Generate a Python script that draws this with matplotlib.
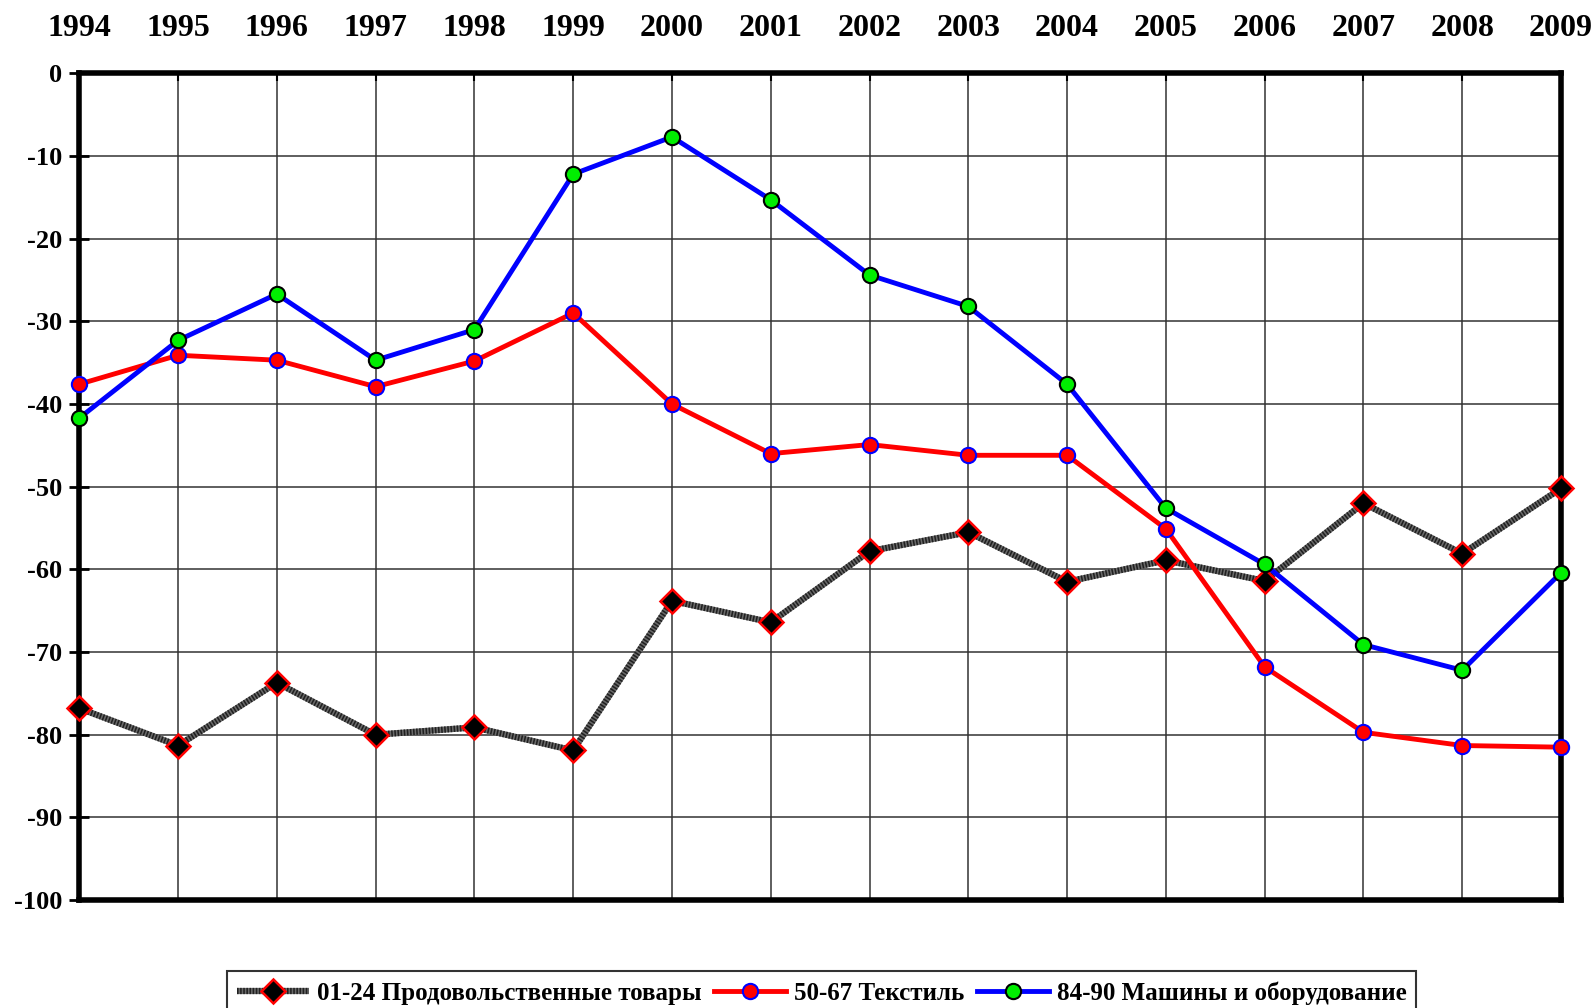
import matplotlib
matplotlib.use("Agg")
import matplotlib.pyplot as plt
from matplotlib.legend_handler import HandlerTuple

years = [1994, 1995, 1996, 1997, 1998, 1999, 2000, 2001, 2002, 2003, 2004, 2005, 2006, 2007, 2008, 2009]
food = [-76.8, -81.3, -73.7, -80.0, -79.1, -81.9, -63.8, -66.4, -57.8, -55.5, -61.5, -58.9, -61.4, -52.0, -58.1, -50.2]
textile = [-37.6, -34.1, -34.7, -37.9, -34.8, -29.0, -40.0, -46.0, -44.9, -46.2, -46.2, -55.1, -71.8, -79.7, -81.3, -81.5]
machines = [-41.7, -32.3, -26.7, -34.7, -31.0, -12.2, -7.7, -15.3, -24.4, -28.2, -37.6, -52.6, -59.4, -69.1, -72.2, -60.4]
labels = ["01-24 Продовольственные товары", "50-67 Текстиль", "84-90 Машины и оборудование"]
yticks = list(range(0, -101, -10))

plt.rcParams['font.family'] = ['Liberation Serif', 'DejaVu Serif']
plt.rcParams['font.weight'] = 'bold'

fig = plt.figure(figsize=(15.95, 10.08), dpi=100)
ax = fig.add_axes([0.0497, 0.107, 0.929, 0.8203])

# food: textured dark-gray line (base + fine black stripes) + diamond markers
f_base, = ax.plot(years, food, color='#6a6a6a', lw=4.5, zorder=7, clip_on=False,
                  solid_capstyle='butt')
f_str, = ax.plot(years, food, color='#202020', lw=4.5, ls=(0, (0.25, 0.25)), zorder=7.1,
                 clip_on=False, dash_capstyle='butt')
f_mk, = ax.plot(years, food, ls='none', marker='D', ms=12, mfc='black', mec='red', mew=1.8,
                zorder=7.2, clip_on=False)
t_ln, = ax.plot(years, textile, color='red', lw=3.5, marker='o', ms=11, mfc='red', mec='blue', mew=1.5,
                zorder=8, clip_on=False)
m_ln, = ax.plot(years, machines, color='blue', lw=3.5, marker='o', ms=11, mfc='#00ee00', mec='black',
                mew=1.5, zorder=9, clip_on=False)

ax.set_xlim(years[0], years[-1])
ax.set_ylim(-100, 0)
ax.set_xticks(years)
ax.set_yticks(yticks)
ax.set_yticklabels([str(v) for v in yticks], fontsize=19, fontweight='bold')
ax.xaxis.tick_top()
ax.set_xticklabels([str(y) for y in years], fontsize=23, fontweight='bold')
ax.tick_params(axis='x', direction='in', length=6, width=1.5, pad=22)
ax.tick_params(axis='y', direction='inout', length=14, width=2, pad=5)
ax.grid(True, color='#333333', lw=1.1, zorder=1)
for s in ax.spines.values():
    s.set_linewidth(4)
    s.set_color('black')
    s.set_zorder(6)

leg = fig.legend([(f_base, f_str, f_mk), t_ln, m_ln], labels,
                 handler_map={tuple: HandlerTuple(ndivide=1, pad=0)},
                 loc='upper center', bbox_to_anchor=(0.515, 0.0363), ncol=3, frameon=True,
                 fancybox=False, edgecolor='black', handlelength=2.9, borderaxespad=0,
                 handletextpad=0.3, columnspacing=0.5, borderpad=0.4,
                 prop={'weight': 'bold', 'size': 18})
leg.get_frame().set_linewidth(1.5)

fig.savefig('out.png', dpi=100)
